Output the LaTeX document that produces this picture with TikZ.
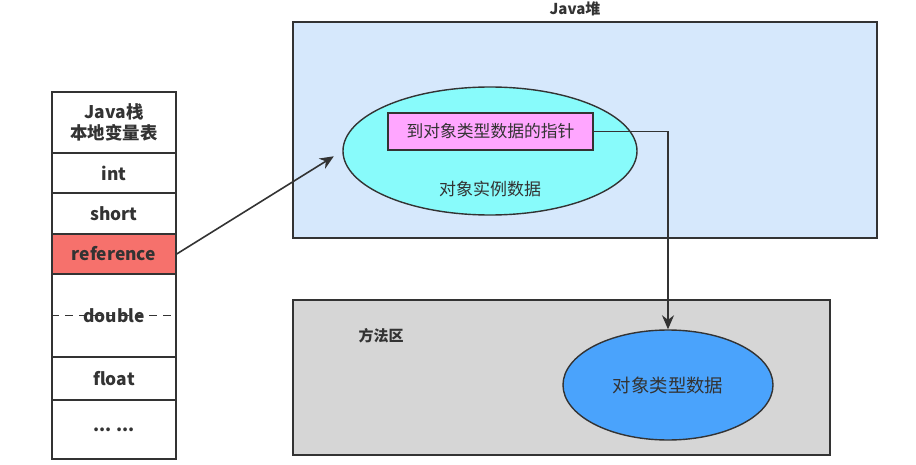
\documentclass[tikz,border=0pt]{standalone}
\usepackage{fontspec}
\setmainfont{Noto Sans CJK SC}
\usepackage{tikz}
\usetikzlibrary{shapes,arrows.meta,positioning,calc}
\definecolor{lineg}{HTML}{333333}
\definecolor{heapblue}{HTML}{D6E8FC}
\definecolor{instcyan}{HTML}{88FBFB}
\definecolor{ptrpink}{HTML}{FFA6FF}
\definecolor{refred}{HTML}{F6716C}
\definecolor{methgray}{HTML}{D6D6D6}
\definecolor{clsblue}{HTML}{4AA3FC}

\begin{document}
\begin{tikzpicture}[x=0.5pt,y=-0.5pt,
  slot/.style={draw=lineg,line width=0.7pt,minimum width=62pt,inner sep=0pt,align=center,font=\fontsize{8.7}{10.5}\selectfont\bfseries,text=lineg},
  area/.style={draw=lineg,line width=0.8pt,inner sep=0pt},
  blob/.style={ellipse,draw=lineg,line width=0.7pt,inner sep=0pt,font=\fontsize{8.5}{10}\selectfont,text=lineg},
  arr/.style={draw=lineg,line width=0.8pt,-{Stealth[length=7pt,width=6pt]}}
]
  \useasboundingbox (0,0) rectangle (916,465);
  \node[slot,minimum height=30.5pt] (head) at (114,122.5) {Java栈\\本地变量表};
  \node[slot,minimum height=20pt] (int) at (114,173) {int};
  \node[slot,minimum height=20.5pt] (short) at (114,213.5) {short};
  \node[slot,minimum height=20pt,fill=refred] (ref) at (114,254) {reference};
  \node[slot,minimum height=41.5pt] (dbl) at (114,315.5) {};
  \node[slot,minimum height=21.5pt] (flt) at (114,378.5) {float};
  \node[slot,minimum height=29.5pt] (dots) at (114,429.5) {... ...};
  \draw[lineg,line width=0.7pt,dash pattern=on 4pt off 3pt] (dbl.west) -- (dbl.east);
  \node[font=\fontsize{8.7}{10.5}\selectfont\bfseries,text=lineg] (dbltxt) at (dbl) {double};

  \node[area,fill=heapblue,minimum width=292pt,minimum height=108pt] (heap) at (585,130) {};
  \node[font=\fontsize{7.5}{9}\selectfont\bfseries,text=lineg] (heaptitle) at (575,9) {Java堆};
  \node[blob,fill=instcyan,minimum width=147pt,minimum height=64pt] (inst) at (490,151) {};
  \node[area,line width=0.7pt,fill=ptrpink,minimum width=102.5pt,minimum height=18.5pt,font=\fontsize{8.4}{10}\selectfont,text=lineg] (ptr) at (490.5,131.5) {到对象类型数据的指针};
  \node[font=\fontsize{8.5}{10}\selectfont,text=lineg] (insttxt) at (490,189) {对象实例数据};

  \node[area,fill=methgray,minimum width=268.5pt,minimum height=77.5pt] (meth) at (561.5,377.5) {};
  \node[font=\fontsize{7.5}{9}\selectfont\bfseries,text=lineg] (methtxt) at (381,336) {方法区};
  \node[blob,fill=clsblue,minimum width=105pt,minimum height=55pt,font=\fontsize{9.2}{11}\selectfont] (cls) at (668,385) {对象类型数据};

  \draw[arr,shorten >=5pt] (ref.east) -- (inst.west);
  \draw[arr] (ptr.east) -| (cls.north);
\end{tikzpicture}
\end{document}
